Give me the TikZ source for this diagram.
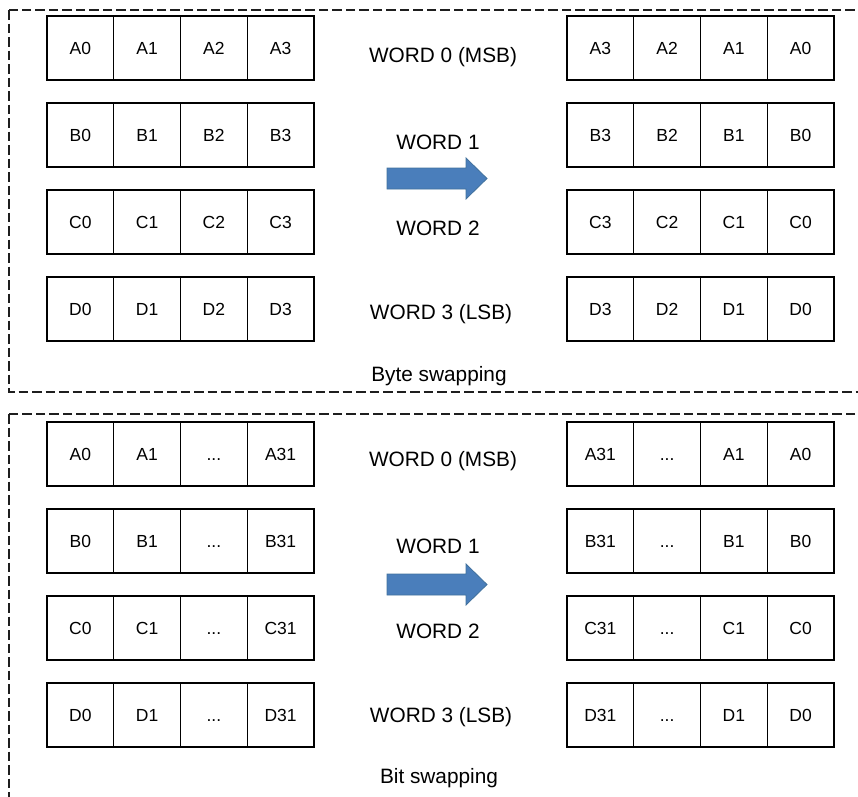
\documentclass[tikz,border=0pt]{standalone}
\usepackage{fontspec}
\setmainfont{Liberation Sans}
\definecolor{arrowfill}{RGB}{74,126,187}
\definecolor{arrowedge}{RGB}{65,113,156}
\definecolor{dashgray}{RGB}{30,30,30}
\tikzset{
  cell/.style={draw=black, line width=1.2pt, minimum width=66.75pt, minimum height=64pt,
    inner sep=0pt, outer sep=0pt, anchor=north west, font=\fontsize{17.5}{20}\selectfont,
    text height=12.5pt, text depth=0pt},
  wordlbl/.style={font=\fontsize{20.8}{24}\selectfont, inner sep=0pt},
  groupbox/.style={draw=dashgray, line width=1.2pt, dash pattern=on 9.5pt off 4pt},
  bigarrow/.style={fill=arrowfill, draw=arrowedge, line width=0.8pt}
}
\begin{document}
\begin{tikzpicture}[x=1pt,y=-1pt]
\useasboundingbox (0,0) rectangle (858,796);
\clip (0,0) rectangle (858,796);
% group boxes
\draw[groupbox] (9,10) rectangle (880,392);
\draw[groupbox] (9,414) rectangle (880,830);
% top (byte swapping)
\foreach \r/\y in {A/16,B/103,C/190,D/277}{
  \foreach \i/\lab/\rlab in {0/0/3,1/1/2,2/2/1,3/3/0}{
    \node[cell] (tl\r\i) at ({47+66.75*\i},\y) {\r\lab};
    \node[cell] (tr\r\i) at ({567+66.75*\i},\y) {\r\rlab};
  }
}
% bottom (bit swapping)
\foreach \r/\y in {A/422,B/509,C/596,D/683}{
  \node[cell] (bl\r0) at (47,\y) {\r0};
  \node[cell] (bl\r1) at (113.75,\y) {\r1};
  \node[cell] (bl\r2) at (180.5,\y) {...};
  \node[cell] (bl\r3) at (247.25,\y) {\r31};
  \node[cell] (br\r0) at (567,\y) {\r31};
  \node[cell] (br\r1) at (633.75,\y) {...};
  \node[cell] (br\r2) at (700.5,\y) {\r1};
  \node[cell] (br\r3) at (767.25,\y) {\r0};
}
% labels top
\node[wordlbl] (tw0) at (443,57) {WORD 0 (MSB)};
\node[wordlbl] (tw1) at (438,142) {WORD 1};
\node[wordlbl] (tw2) at (438,228) {WORD 2};
\node[wordlbl] (tw3) at (441,314) {WORD 3 (LSB)};
\node[wordlbl] (tcap) at (439,376) {Byte swapping};
% labels bottom
\node[wordlbl] (bw0) at (443,461) {WORD 0 (MSB)};
\node[wordlbl] (bw1) at (438,546) {WORD 1};
\node[wordlbl] (bw2) at (438,631) {WORD 2};
\node[wordlbl] (bw3) at (441,717) {WORD 3 (LSB)};
\node[wordlbl] (bcap) at (439,778) {Bit swapping};
% arrows
\foreach \c in {178.5,584.5}{
  \draw[bigarrow] (387,\c-10.5) -- (466,\c-10.5) -- (466,\c-20.5) -- (487,\c) -- (466,\c+20.5) -- (466,\c+10.5) -- (387,\c+10.5) -- cycle;
}
\end{tikzpicture}
\end{document}
